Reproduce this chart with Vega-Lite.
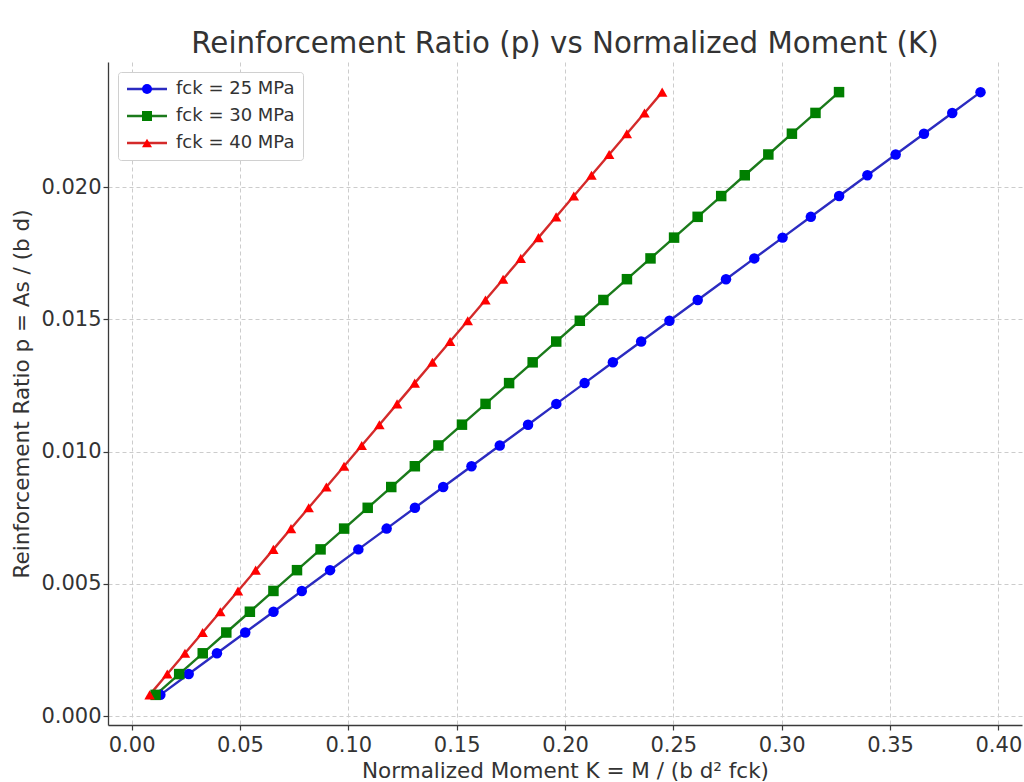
{
  "$schema": "https://vega.github.io/schema/vega-lite/v6.json",
  "width": 914,
  "height": 663,
  "autosize": {"type": "none"},
  "padding": {"left": 108, "top": 62, "right": 2, "bottom": 57},
  "background": "white",
  "title": {
    "text": "Reinforcement Ratio (p) vs Normalized Moment (K)",
    "font": "DejaVu Sans",
    "fontSize": 29.3,
    "fontWeight": "normal",
    "color": "#333333",
    "anchor": "middle",
    "frame": "group",
    "baseline": "alphabetic",
    "offset": 7,
    "dy": 27
  },
  "config": {
    "view": {"stroke": null},
    "axis": {
      "labelFont": "DejaVu Sans",
      "labelFontSize": 21,
      "labelColor": "#333333",
      "titleFont": "DejaVu Sans",
      "titleFontSize": 21.5,
      "titleFontWeight": "normal",
      "titleColor": "#333333",
      "domainColor": "#3a3a3a",
      "domainWidth": 1.3,
      "tickColor": "#3a3a3a",
      "tickWidth": 1.2,
      "tickSize": 5,
      "gridColor": "#cccccc",
      "gridDash": [4, 3],
      "gridWidth": 1
    }
  },
  "data": {
    "values": [
      {"fck": "fck = 25 MPa", "p": 0.0008, "K": 0.01328},
      {"fck": "fck = 25 MPa", "p": 0.0015862, "K": 0.026331},
      {"fck": "fck = 25 MPa", "p": 0.0023724, "K": 0.039382},
      {"fck": "fck = 25 MPa", "p": 0.0031586, "K": 0.052433},
      {"fck": "fck = 25 MPa", "p": 0.0039448, "K": 0.065484},
      {"fck": "fck = 25 MPa", "p": 0.004731, "K": 0.078535},
      {"fck": "fck = 25 MPa", "p": 0.0055172, "K": 0.091586},
      {"fck": "fck = 25 MPa", "p": 0.0063034, "K": 0.104636},
      {"fck": "fck = 25 MPa", "p": 0.0070897, "K": 0.117689},
      {"fck": "fck = 25 MPa", "p": 0.0078759, "K": 0.13074},
      {"fck": "fck = 25 MPa", "p": 0.0086621, "K": 0.143791},
      {"fck": "fck = 25 MPa", "p": 0.0094483, "K": 0.156842},
      {"fck": "fck = 25 MPa", "p": 0.0102345, "K": 0.169893},
      {"fck": "fck = 25 MPa", "p": 0.0110207, "K": 0.182944},
      {"fck": "fck = 25 MPa", "p": 0.0118069, "K": 0.195995},
      {"fck": "fck = 25 MPa", "p": 0.0125931, "K": 0.209045},
      {"fck": "fck = 25 MPa", "p": 0.0133793, "K": 0.222096},
      {"fck": "fck = 25 MPa", "p": 0.0141655, "K": 0.235147},
      {"fck": "fck = 25 MPa", "p": 0.0149517, "K": 0.248198},
      {"fck": "fck = 25 MPa", "p": 0.0157379, "K": 0.261249},
      {"fck": "fck = 25 MPa", "p": 0.0165241, "K": 0.2743},
      {"fck": "fck = 25 MPa", "p": 0.0173103, "K": 0.287351},
      {"fck": "fck = 25 MPa", "p": 0.0180966, "K": 0.300404},
      {"fck": "fck = 25 MPa", "p": 0.0188828, "K": 0.313454},
      {"fck": "fck = 25 MPa", "p": 0.019669, "K": 0.326505},
      {"fck": "fck = 25 MPa", "p": 0.0204552, "K": 0.339556},
      {"fck": "fck = 25 MPa", "p": 0.0212414, "K": 0.352607},
      {"fck": "fck = 25 MPa", "p": 0.0220276, "K": 0.365658},
      {"fck": "fck = 25 MPa", "p": 0.0228138, "K": 0.378709},
      {"fck": "fck = 25 MPa", "p": 0.0236, "K": 0.39176},
      {"fck": "fck = 30 MPa", "p": 0.0008, "K": 0.011067},
      {"fck": "fck = 30 MPa", "p": 0.0015862, "K": 0.021943},
      {"fck": "fck = 30 MPa", "p": 0.0023724, "K": 0.032818},
      {"fck": "fck = 30 MPa", "p": 0.0031586, "K": 0.043694},
      {"fck": "fck = 30 MPa", "p": 0.0039448, "K": 0.05457},
      {"fck": "fck = 30 MPa", "p": 0.004731, "K": 0.065446},
      {"fck": "fck = 30 MPa", "p": 0.0055172, "K": 0.076321},
      {"fck": "fck = 30 MPa", "p": 0.0063034, "K": 0.087197},
      {"fck": "fck = 30 MPa", "p": 0.0070897, "K": 0.098074},
      {"fck": "fck = 30 MPa", "p": 0.0078759, "K": 0.10895},
      {"fck": "fck = 30 MPa", "p": 0.0086621, "K": 0.119826},
      {"fck": "fck = 30 MPa", "p": 0.0094483, "K": 0.130701},
      {"fck": "fck = 30 MPa", "p": 0.0102345, "K": 0.141577},
      {"fck": "fck = 30 MPa", "p": 0.0110207, "K": 0.152453},
      {"fck": "fck = 30 MPa", "p": 0.0118069, "K": 0.163329},
      {"fck": "fck = 30 MPa", "p": 0.0125931, "K": 0.174204},
      {"fck": "fck = 30 MPa", "p": 0.0133793, "K": 0.18508},
      {"fck": "fck = 30 MPa", "p": 0.0141655, "K": 0.195956},
      {"fck": "fck = 30 MPa", "p": 0.0149517, "K": 0.206832},
      {"fck": "fck = 30 MPa", "p": 0.0157379, "K": 0.217708},
      {"fck": "fck = 30 MPa", "p": 0.0165241, "K": 0.228583},
      {"fck": "fck = 30 MPa", "p": 0.0173103, "K": 0.239459},
      {"fck": "fck = 30 MPa", "p": 0.0180966, "K": 0.250336},
      {"fck": "fck = 30 MPa", "p": 0.0188828, "K": 0.261212},
      {"fck": "fck = 30 MPa", "p": 0.019669, "K": 0.272088},
      {"fck": "fck = 30 MPa", "p": 0.0204552, "K": 0.282964},
      {"fck": "fck = 30 MPa", "p": 0.0212414, "K": 0.293839},
      {"fck": "fck = 30 MPa", "p": 0.0220276, "K": 0.304715},
      {"fck": "fck = 30 MPa", "p": 0.0228138, "K": 0.315591},
      {"fck": "fck = 30 MPa", "p": 0.0236, "K": 0.326467},
      {"fck": "fck = 40 MPa", "p": 0.0008, "K": 0.0083},
      {"fck": "fck = 40 MPa", "p": 0.0015862, "K": 0.016457},
      {"fck": "fck = 40 MPa", "p": 0.0023724, "K": 0.024614},
      {"fck": "fck = 40 MPa", "p": 0.0031586, "K": 0.03277},
      {"fck": "fck = 40 MPa", "p": 0.0039448, "K": 0.040927},
      {"fck": "fck = 40 MPa", "p": 0.004731, "K": 0.049084},
      {"fck": "fck = 40 MPa", "p": 0.0055172, "K": 0.057241},
      {"fck": "fck = 40 MPa", "p": 0.0063034, "K": 0.065398},
      {"fck": "fck = 40 MPa", "p": 0.0070897, "K": 0.073556},
      {"fck": "fck = 40 MPa", "p": 0.0078759, "K": 0.081712},
      {"fck": "fck = 40 MPa", "p": 0.0086621, "K": 0.089869},
      {"fck": "fck = 40 MPa", "p": 0.0094483, "K": 0.098026},
      {"fck": "fck = 40 MPa", "p": 0.0102345, "K": 0.106183},
      {"fck": "fck = 40 MPa", "p": 0.0110207, "K": 0.11434},
      {"fck": "fck = 40 MPa", "p": 0.0118069, "K": 0.122497},
      {"fck": "fck = 40 MPa", "p": 0.0125931, "K": 0.130653},
      {"fck": "fck = 40 MPa", "p": 0.0133793, "K": 0.13881},
      {"fck": "fck = 40 MPa", "p": 0.0141655, "K": 0.146967},
      {"fck": "fck = 40 MPa", "p": 0.0149517, "K": 0.155124},
      {"fck": "fck = 40 MPa", "p": 0.0157379, "K": 0.163281},
      {"fck": "fck = 40 MPa", "p": 0.0165241, "K": 0.171438},
      {"fck": "fck = 40 MPa", "p": 0.0173103, "K": 0.179594},
      {"fck": "fck = 40 MPa", "p": 0.0180966, "K": 0.187752},
      {"fck": "fck = 40 MPa", "p": 0.0188828, "K": 0.195909},
      {"fck": "fck = 40 MPa", "p": 0.019669, "K": 0.204066},
      {"fck": "fck = 40 MPa", "p": 0.0204552, "K": 0.212223},
      {"fck": "fck = 40 MPa", "p": 0.0212414, "K": 0.22038},
      {"fck": "fck = 40 MPa", "p": 0.0220276, "K": 0.228536},
      {"fck": "fck = 40 MPa", "p": 0.0228138, "K": 0.236693},
      {"fck": "fck = 40 MPa", "p": 0.0236, "K": 0.24485}
    ]
  },
  "encoding": {
    "x": {
      "field": "K",
      "type": "quantitative",
      "scale": {"domain": [-0.0109, 0.4109], "nice": false, "zero": false},
      "axis": {
        "title": "Normalized Moment K = M / (b d² fck)",
        "values": [0, 0.05, 0.1, 0.15, 0.2, 0.25, 0.3, 0.35, 0.4],
        "format": ".2f",
        "labelPadding": 4,
        "titleBaseline": "alphabetic",
        "titleY": 52
      }
    },
    "y": {
      "field": "p",
      "type": "quantitative",
      "scale": {"domain": [-0.00034, 0.02474], "nice": false, "zero": false},
      "axis": {
        "title": "Reinforcement Ratio p = As / (b d)",
        "values": [0, 0.005, 0.01, 0.015, 0.02],
        "format": ".3f",
        "labelPadding": 2,
        "titleBaseline": "alphabetic",
        "titleX": -80
      }
    }
  },
  "layer": [
    {
      "mark": {"type": "line", "strokeWidth": 2.4},
      "encoding": {
        "stroke": {
          "field": "fck",
          "type": "nominal",
          "scale": {
            "domain": ["fck = 25 MPa", "fck = 30 MPa", "fck = 40 MPa"],
            "range": ["#2b2bc0", "#1b7a1b", "#d42a2a"]
          },
          "legend": {
            "title": null,
            "orient": "none",
            "legendX": 10,
            "legendY": 10,
            "padding": 8,
            "fillColor": "white",
            "strokeColor": "#d0d0d0",
            "cornerRadius": 3,
            "labelFont": "DejaVu Sans",
            "labelFontSize": 18,
            "labelColor": "#333333",
            "symbolType": "M-4,0H4",
            "symbolSize": 100,
            "symbolStrokeWidth": 2.4,
            "symbolOffset": 12,
            "labelOffset": 20,
            "rowPadding": 9,
            "zindex": 1
          }
        }
      }
    },
    {
      "mark": {"type": "point", "filled": true, "size": 110, "opacity": 1, "strokeWidth": 0},
      "encoding": {
        "fill": {
          "field": "fck",
          "type": "nominal",
          "scale": {"range": ["#0000ff", "#007f00", "#ff0000"]},
          "legend": {
            "title": null,
            "orient": "none",
            "legendX": 10,
            "legendY": 10,
            "padding": 8,
            "labelFont": "DejaVu Sans",
            "labelFontSize": 18,
            "labelOpacity": 0,
            "symbolSize": 100,
            "symbolStrokeWidth": 0,
            "symbolOffset": 12,
            "labelOffset": 20,
            "rowPadding": 9,
            "zindex": 2
          }
        },
        "shape": {
          "field": "fck",
          "type": "nominal",
          "scale": {"range": ["circle", "square", "triangle-up"]},
          "legend": {
            "title": null,
            "orient": "none",
            "legendX": 10,
            "legendY": 10,
            "padding": 8,
            "labelFont": "DejaVu Sans",
            "labelFontSize": 18,
            "labelOpacity": 0,
            "symbolSize": 100,
            "symbolStrokeWidth": 0,
            "symbolOffset": 12,
            "labelOffset": 20,
            "rowPadding": 9,
            "zindex": 2
          }
        }
      }
    }
  ]
}
